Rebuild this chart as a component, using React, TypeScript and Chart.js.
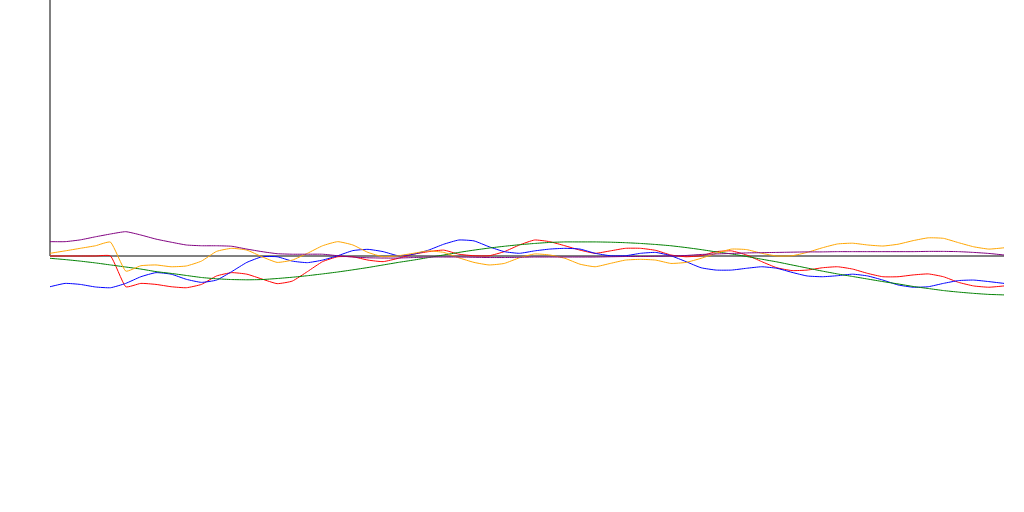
import React, { useEffect, useRef } from "react";
import { Chart, registerables } from "chart.js";

Chart.register(...registerables);

const purpleValues = [5.6, 5.6, 6.3, 7.5, 8.6, 9.5, 8.2, 6.6, 5.4, 4.3, 4.0, 4.0, 3.8, 2.7, 1.7, 0.9, 0.7, 0.7, 0.7, 0.1, -0.4, -0.7, -0.8, -0.8, -0.6, -0.4, -0.4, -0.4, -0.5, -0.6, -0.6, -0.5, -0.4, -0.4, -0.4, -0.4, -0.4, -0.3, -0.2, -0.2, -0.1, 0, 0.2, 0.6, 0.8, 1.0, 1.2, 1.3, 1.4, 1.5, 1.6, 1.6, 1.7, 1.7, 1.7, 1.7, 1.7, 1.7, 1.8, 1.8, 1.7, 1.4, 1.0, 0.4];
const orangeValues = [1.05, 2.0, 3.0, 4.0, 5.4, -5.9, -3.8, -3.5, -4.2, -3.9, -2.0, 1.8, 3.0, 2.3, -0.3, -2.5, -1.6, 1.05, 4.0, 5.6, 4.3, 1.4, -0.3, 0.1, 1.05, 2.0, 1.4, -0.7, -2.5, -3.5, -2.9, -0.7, 0.8, 0.4, -0.9, -3.2, -4.2, -2.9, -1.6, -1.3, -1.6, -2.9, -2.5, -0.9, 1.05, 2.7, 2.5, 1.05, 0, 0.1, 1.4, 3.2, 4.7, 5.0, 4.3, 3.9, 4.6, 6.0, 7.1, 6.9, 5.2, 3.6, 2.7, 3.2];
const redValues = [0, 0, 0, 0, 0, -12.0, -10.7, -11.1, -12.0, -12.4, -11.1, -7.8, -6.5, -7.1, -9.0, -10.8, -9.8, -6.1, -2.2, -0.3, -0.3, -1.6, -2.2, -0.9, 0.7, 1.7, 2.3, 0.7, 0.1, 0.1, 1.7, 4.3, 6.25, 5.6, 4.0, 2.3, 1.05, 2.0, 3.0, 3.0, 2.2, 0.4, -0.3, 0.1, 1.7, 2.0, 0.4, -2.2, -4.6, -5.7, -5.5, -4.6, -4.2, -5.1, -6.8, -8.1, -8.1, -7.4, -7.0, -8.1, -10.3, -11.7, -12.2, -11.7];
const blueValues = [-12.0, -10.7, -11.1, -12.1, -12.4, -10.7, -8.1, -6.5, -7.1, -9.1, -10.3, -9.4, -6.1, -2.5, -0.3, -0.3, -2.0, -2.6, -1.6, 0.1, 2.1, 2.6, 1.7, 0.1, 0.7, 2.3, 4.6, 6.25, 5.9, 3.6, 1.7, 1.05, 2.0, 2.7, 3.0, 2.7, 1.05, 0.1, 0.1, 1.05, 1.4, 0.1, -2.2, -4.6, -5.5, -5.5, -4.8, -4.2, -4.8, -6.4, -7.8, -8.1, -7.7, -7.1, -7.8, -9.4, -11.3, -12.2, -12.0, -10.7, -9.6, -9.4, -10.0, -10.7];
const greenValues = [-0.9, -1.4, -2.0, -2.7, -3.5, -4.3, -5.1, -6.1, -6.8, -7.6, -8.4, -8.9, -9.2, -9.3, -9.2, -8.8, -8.3, -7.7, -7.0, -6.25, -5.4, -4.5, -3.5, -2.5, -1.6, -0.6, 0.4, 1.4, 2.3, 3.1, 3.8, 4.4, 4.9, 5.3, 5.5, 5.5, 5.5, 5.4, 5.2, 4.9, 4.5, 4.0, 3.3, 2.5, 1.6, 0.8, -0.2, -1.25, -2.3, -3.5, -4.7, -5.9, -7.0, -8.0, -9.0, -10.0, -10.9, -11.9, -12.7, -13.5, -14.1, -14.6, -15.0, -15.2];

const yMin = -100;
const yMax = 100;

export default function App() {
  const ref = useRef<HTMLCanvasElement | null>(null);

  useEffect(() => {
    if (!ref.current) return;
    const n = purpleValues.length;
    const toPts = (arr: number[]) => arr.map((v, i) => ({ x: i, y: v }));
    const series = [
      { data: purpleValues, color: "purple" },
      { data: orangeValues, color: "orange" },
      { data: greenValues, color: "green" },
      { data: blueValues, color: "blue" },
      { data: redValues, color: "red" },
    ];
    const chart = new Chart(ref.current, {
      type: "line",
      data: {
        datasets: [
          ...series.map((s, k) => ({
            label: s.color,
            data: toPts(s.data),
            borderColor: s.color,
            backgroundColor: s.color,
            borderWidth: 1,
            pointRadius: 0,
            tension: 0.15,
            fill: false,
            clip: false as const,
            order: k + 1,
          })),
          {
            label: "xaxis",
            data: [
              { x: 0, y: 0 },
              { x: n - 1, y: 0 },
            ],
            borderColor: "gray",
            borderWidth: 2,
            pointRadius: 0,
            fill: false,
            clip: false as const,
            order: 20,
          },
          {
            label: "yaxis",
            data: [
              { x: 0, y: 0 },
              { x: 0, y: yMax },
            ],
            borderColor: "gray",
            borderWidth: 2,
            pointRadius: 0,
            fill: false,
            clip: false as const,
            order: 21,
          },
        ],
      },
      options: {
        animation: false,
        responsive: false,
        maintainAspectRatio: false,
        layout: { padding: { left: 50, right: 20, top: 0, bottom: 0 } },
        plugins: {
          legend: { display: false },
          tooltip: { enabled: false },
        },
        scales: {
          x: { type: "linear", min: 0, max: n - 1, display: false },
          y: { type: "linear", min: yMin, max: yMax, display: false },
        },
      },
    });
    return () => chart.destroy();
  }, []);

  return (
    <div style={{ position: "fixed", left: 0, top: 0, width: 1024, height: 512, background: "#fff" }}>
      <canvas ref={ref} width={1024} height={512} style={{ width: 1024, height: 512 }} />
    </div>
  );
}
